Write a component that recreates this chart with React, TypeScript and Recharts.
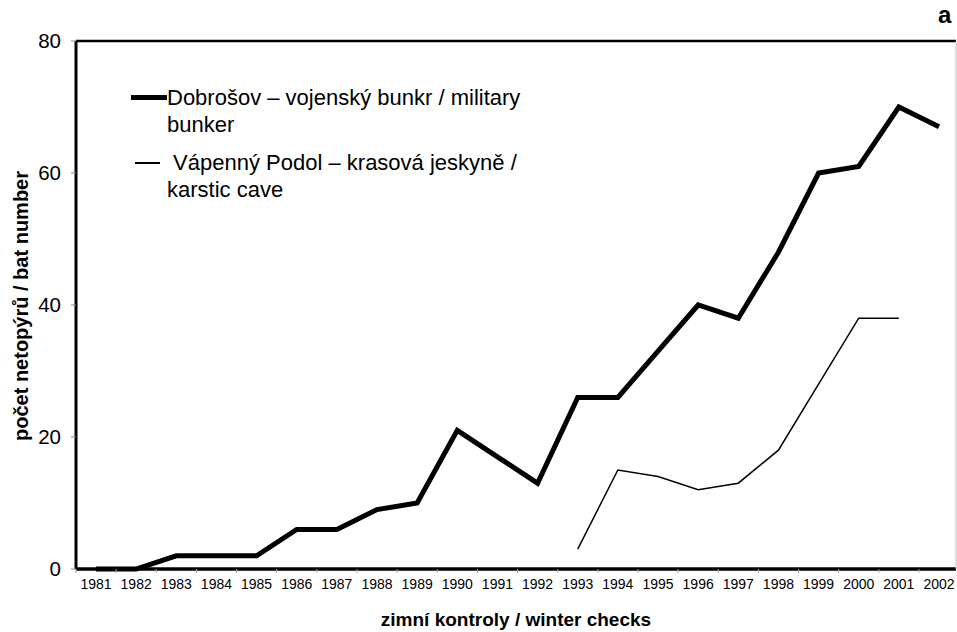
import React from 'react';
import { LineChart, Line, XAxis, YAxis, ReferenceLine, Legend, Label } from 'recharts';

const years = ['1981','1982','1983','1984','1985','1986','1987','1988','1989','1990','1991','1992','1993','1994','1995','1996','1997','1998','1999','2000','2001','2002'];
const dobrosov = [0,0,2,2,2,6,6,9,10,21,17,13,26,26,33,40,38,48,60,61,70,67];
const vapenny: (number | null)[] = [null,null,null,null,null,null,null,null,null,null,null,null,3,15,14,12,13,18,28,38,38,null];
const yTicks = [0,20,40,60,80];

const seriesNames = ['Dobrošov – vojenský bunkr / military bunker', 'Vápenný Podol – krasová jeskyně / karstic cave'];
const legendLines = [
  ['Dobrošov – vojenský bunkr / military', 'bunker'],
  [' Vápenný Podol – krasová jeskyně /', 'karstic cave'],
];
const xTitle = 'zimní kontroly / winter checks';
const yTitle = 'počet netopýrů / bat number';
const panelLetter = 'a';

const data = years.map((y, i) => ({ year: y, dobrosov: dobrosov[i], vapenny: vapenny[i] }));

const FONT = '"Liberation Sans", Arial, Helvetica, sans-serif';

const XTick = (props: any) => {
  const { x, y, payload } = props;
  return (
    <g>
      <line x1={x - 20} x2={x - 20} y1={y - 10} y2={y - 6} stroke="#aaa" strokeWidth={1} />
      <text x={x} y={y} dy="0.71em" textAnchor="middle" fontSize={14} fontFamily={FONT} fill="#000">
        {payload.value}
      </text>
    </g>
  );
};

const YTitle = () => {
  const cy = 306;
  const cx = 21;
  return (
    <text x={cx} y={cy} transform={`rotate(-90, ${cx}, ${cy})`} textAnchor="middle" dominantBaseline="central"
      fontSize={20} fontWeight="bold" fontFamily={FONT} fill="#000">
      {yTitle}
    </text>
  );
};

const LegendContent = () => {
  const textStyle: React.CSSProperties = { position: 'absolute', fontSize: 22, fontFamily: FONT, color: '#000', whiteSpace: 'pre', lineHeight: '28px' };
  return (
    <div style={{ position: 'relative', width: 600, height: 220 }}>
      <div style={{ position: 'absolute', left: 131, top: 95, width: 36, height: 5, background: '#000' }} />
      <div style={{ ...textStyle, left: 167, top: 84 }}>{legendLines[0][0]}</div>
      <div style={{ ...textStyle, left: 167, top: 111 }}>{legendLines[0][1]}</div>
      <div style={{ position: 'absolute', left: 135, top: 162, width: 25, height: 1.5, background: '#000' }} />
      <div style={{ ...textStyle, left: 167, top: 149 }}>{legendLines[1][0]}</div>
      <div style={{ ...textStyle, left: 167, top: 176 }}>{legendLines[1][1]}</div>
    </div>
  );
};

export default function App() {
  return (
    <div style={{ position: 'absolute', left: 0, top: 0, width: 957, height: 632, background: '#fff' }}>
      <LineChart width={957} height={632} data={data} margin={{ top: 41, right: 0, bottom: 0, left: 0 }}>
        <XAxis dataKey="year" height={63} interval={0} tickSize={4} tickMargin={6} tickLine={false}
          padding={{ left: 20, right: 17 }}
          tick={<XTick />} axisLine={{ stroke: '#000', strokeWidth: 3.5 }}>
          <Label value={xTitle} position="insideBottom" offset={6} fontSize={19} fontWeight="bold" fontFamily={FONT} fill="#000" />
        </XAxis>
        <YAxis yAxisId="left" width={76} domain={[0, 80]} ticks={yTicks} tickSize={5} tickMargin={10}
          tickLine={{ stroke: '#888', strokeWidth: 1 }} axisLine={{ stroke: '#000', strokeWidth: 3 }}
          tick={{ fontSize: 20.5, fontFamily: FONT, fill: '#000' }} label={<YTitle />} />
        <YAxis yAxisId="right" orientation="right" width={1} domain={[0, 80]} tick={false} tickLine={false}
          axisLine={{ stroke: '#bbb', strokeWidth: 1 }} />
        <ReferenceLine yAxisId="left" y={80} stroke="#000" strokeWidth={2.5} />
        <Legend layout="vertical" align="center" verticalAlign="middle" content={<LegendContent />}
          wrapperStyle={{ position: 'absolute', left: 0, top: 0, width: 600, height: 220 }} />
        <Line yAxisId="left" type="linear" dataKey="dobrosov" name={seriesNames[0]} stroke="#000" strokeWidth={5}
          dot={false} activeDot={false} isAnimationActive={false} strokeLinejoin="miter" />
        <Line yAxisId="left" type="linear" dataKey="vapenny" name={seriesNames[1]} stroke="#000" strokeWidth={1.5}
          dot={false} activeDot={false} isAnimationActive={false} strokeLinejoin="miter" />
      </LineChart>
      <div style={{ position: 'absolute', left: 938, top: 1, fontSize: 24, fontWeight: 'bold', fontFamily: FONT, color: '#000' }}>
        {panelLetter}
      </div>
    </div>
  );
}
